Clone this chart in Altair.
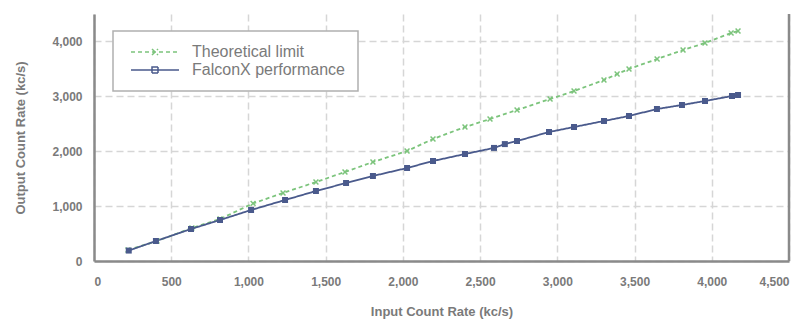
import altair as alt
import pandas as pd

series_names = ["Theoretical limit", "FalconX performance"]

x_theory = [220, 408, 634, 816, 1030, 1224, 1437, 1625, 1806, 2027, 2195, 2402,
            2564, 2739, 2953, 3108, 3302, 3387, 3464, 3646, 3814, 3956, 4125, 4170]
y_theory = [200, 364, 601, 765, 1050, 1239, 1439, 1621, 1804, 2004, 2223, 2441,
            2587, 2751, 2951, 3097, 3297, 3407, 3498, 3680, 3844, 3972, 4154, 4190]

x_falcon = [225, 401, 628, 816, 1017, 1237, 1437, 1632, 1806, 2027, 2195, 2402,
            2590, 2660, 2739, 2946, 3108, 3302, 3464, 3645, 3807, 3956, 4131, 4170]
y_falcon = [190, 364, 583, 747, 929, 1111, 1275, 1421, 1549, 1694, 1822, 1949,
            2060, 2130, 2186, 2350, 2441, 2551, 2642, 2769, 2842, 2915, 3006, 3024]

tick_values = list(range(0, 4501, 500))

df = pd.concat([
    pd.DataFrame({"series": series_names[0], "x": x_theory, "y": y_theory, "order": range(len(x_theory))}),
    pd.DataFrame({"series": series_names[1], "x": x_falcon, "y": y_falcon, "order": range(len(x_falcon))}),
])

GREEN = "#7cc47c"
BLUE = "#4a5a8c"
GRAY_TXT = "#7a7a7a"
FONT = "Liberation Sans"

xscale = alt.Scale(domain=[0, 4500], nice=False)
yscale = alt.Scale(domain=[0, 4500], nice=False)
cscale = alt.Scale(domain=series_names, range=[GREEN, BLUE])
dscale = alt.Scale(domain=series_names, range=[[4, 3], [1, 0]])

GREEN_SYM = "M-1,0H15M6,-1L8,1M6,1L8,-1"
BLUE_SYM = "M-1,0H15M6,-1H8V1H6Z"
sscale = alt.Scale(domain=series_names, range=[GREEN_SYM, BLUE_SYM])

xaxis = alt.Axis(values=tick_values, format=",d", title="Input Count Rate (kc/s)",
                 grid=True, gridDash=[7, 4], gridColor="#d6d6d6", gridWidth=1.5,
                 domainColor="#8a8a8a", domainWidth=2.5, ticks=False,
                 labelPadding=15, labelFontSize=12, labelColor=GRAY_TXT, labelFont=FONT,
                 labelFontWeight="bold",
                 titleFontSize=13, titleColor=GRAY_TXT, titleFont=FONT, titleFontWeight="bold",
                 titlePadding=18)
yaxis = alt.Axis(values=tick_values, format=",d", title="Output Count Rate (kc/s)",
                 grid=True, gridDash=[7, 4], gridColor="#d6d6d6", gridWidth=1.5,
                 domainColor="#8a8a8a", domainWidth=2.5, ticks=False,
                 labelPadding=12, labelFontSize=12, labelColor=GRAY_TXT, labelFont=FONT,
                 labelFontWeight="bold",
                 titleFontSize=13, titleColor=GRAY_TXT, titleFont=FONT, titleFontWeight="bold",
                 titlePadding=24)

legend = alt.Legend(
    title=None, orient="none", legendX=19, legendY=17, direction="vertical",
    fillColor="white", strokeColor="#b0b0b0", padding=13,
    labelFontSize=16, labelColor=GRAY_TXT, labelFont=FONT, labelFontWeight="normal",
    labelOffset=50, rowPadding=2,
    symbolSize=36, symbolStrokeWidth=1.5, symbolFillColor="transparent",
    symbolOpacity=1, labelLimit=300,
)

base = alt.Chart(df)

lines = base.mark_line(strokeWidth=1.8).encode(
    x=alt.X("x:Q", scale=xscale, axis=xaxis),
    y=alt.Y("y:Q", scale=yscale, axis=yaxis),
    color=alt.Color("series:N", scale=cscale, legend=legend),
    strokeDash=alt.StrokeDash("series:N", scale=dscale, legend=legend),
    order="order:Q",
)

legend_layer = base.mark_point(opacity=0, filled=False).encode(
    x="x:Q", y="y:Q",
    color=alt.Color("series:N", scale=cscale, legend=legend),
    shape=alt.Shape("series:N", scale=sscale, legend=legend),
    strokeDash=alt.StrokeDash("series:N", scale=dscale, legend=legend),
)

green_pts = base.transform_filter(alt.datum.series == series_names[0]).mark_point(
    shape="M-1,-1L1,1M-1,1L1,-1", size=24, stroke=GREEN, strokeWidth=1.5, filled=False, opacity=1
).encode(x="x:Q", y="y:Q")

blue_pts = base.transform_filter(alt.datum.series == series_names[1]).mark_point(
    shape="square", size=36, color=BLUE, filled=True, opacity=1
).encode(x="x:Q", y="y:Q")

right_border = alt.Chart(pd.DataFrame({"x": [4500]})).mark_rule(
    color="#8a8a8a", strokeWidth=2.5
).encode(x=alt.X("x:Q", scale=xscale), y=alt.value(0), y2=alt.value(247))

chart = alt.layer(lines, legend_layer, green_pts, blue_pts, right_border).properties(
    width=695, height=247,
    autosize=alt.AutoSizeParams(type="none"),
    padding={"left": 86, "top": 6, "right": 10, "bottom": 60},
    background="white",
).configure_view(stroke=None).configure_legend(strokeWidth=1.5)

chart.save("out.html", embed_options={"renderer": "svg", "actions": False})
